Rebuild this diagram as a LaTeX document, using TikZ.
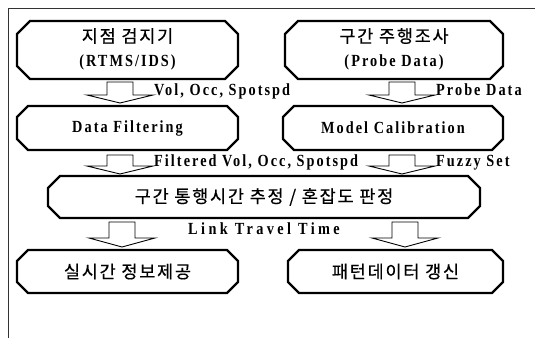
\documentclass[tikz,border=0pt]{standalone}
\usepackage{fontspec}
\setmainfont{Liberation Serif}
\newfontfamily\lat[FakeStretch=0.84,LetterSpace=12]{Liberation Serif}
\newfontfamily\latwide[FakeStretch=0.84,LetterSpace=20]{Liberation Serif}
\newfontfamily\kr[LetterSpace=10,FakeBold=0.5]{Noto Sans CJK KR}
\usetikzlibrary{calc}
\newcommand\chbox[6]{%
  \draw[boxline] (#2+#6,#3) -- (#4-#6,#3) -- (#4,#3+#6) -- (#4,#5-#6) -- (#4-#6,#5) -- (#2+#6,#5) -- (#2,#5-#6) -- (#2,#3+#6) -- cycle;
  \coordinate (#1) at ({(#2+#4)/2},{(#3+#5)/2});}
\newcommand\barr[5]{%
  \draw[barrow] (#2-13,#3) -- (#2+13,#3) -- (#2+13,#4) -- (#2+33,#4) -- (#2,#5) -- (#2-33,#4) -- (#2-13,#4) -- cycle;
  \coordinate (#1-r) at (#2+33,#4);
  \coordinate (#1-l) at (#2-33,#4);}
\begin{document}
\begin{tikzpicture}[x=1pt,y=-1pt,
  boxline/.style={line width=2.3pt, line join=miter},
  barrow/.style={line width=0.9pt, line join=miter},
  lab/.style={font=\lat\bfseries\fontsize{17}{19}\selectfont, inner sep=0pt},
  labwide/.style={font=\latwide\bfseries\fontsize{17}{19}\selectfont, inner sep=0pt},
  krtext/.style={font=\kr\fontsize{17.5}{20}\selectfont, inner sep=0pt},
  frame/.style={line width=0.7pt, black!80}]
\useasboundingbox (0,0) rectangle (535,338);
\draw[frame] (8,338) -- (8,8) -- (535,8);
% boxes
\chbox{A}{17}{21}{238}{79}{13}
\chbox{B}{285}{21}{503}{79}{13}
\chbox{C}{17}{106}{238}{150}{11}
\chbox{D}{283}{106}{503}{150}{11}
\chbox{E}{48}{176}{480}{218}{12}
\chbox{F}{17}{250}{238}{293}{11}
\chbox{G}{288}{250}{503}{293}{11}
% texts
\node[krtext] (tA1) at ($(A)+(0,-14)$) {지점 검지기};
\node[lab] (tA2) at ($(A)+(0,12)$) {(RTMS/IDS)};
\node[krtext] (tB1) at ($(B)+(0,-14)$) {구간 주행조사};
\node[lab] (tB2) at ($(B)+(0,12)$) {(Probe Data)};
\node[lab] (tC) at (C) {Data Filtering};
\node[lab] (tD) at (D) {Model Calibration};
\node[krtext] (tE) at (E) {구간 통행시간 추정 / 혼잡도 판정};
\node[krtext] (tF) at (F) {실시간 정보제공};
\node[krtext] (tG) at (G) {패턴데이터 갱신};
% block arrows
\barr{a1}{120}{82}{95}{103}
\barr{a2}{402}{82}{95}{103}
\barr{a3}{120}{155}{166}{174}
\barr{a4}{402}{155}{166}{174}
\barr{a5}{122}{222}{238}{247}
\barr{a6}{405}{222}{238}{247}
% labels
\node[lab, anchor=base west] (l1) at ($(a1-r)+(1,0)$) {Vol, Occ, Spotspd};
\node[lab, anchor=base west] (l2) at ($(a2-r)+(1,0)$) {Probe Data};
\node[lab, anchor=base west] (l3) at ($(a3-r)+(1,0)$) {Filtered Vol, Occ, Spotspd};
\node[lab, anchor=base west] (l4) at ($(a4-r)+(1,0)$) {Fuzzy Set};
\node[labwide] (l5) at (264,229) {Link Travel Time};
\end{tikzpicture}
\end{document}
